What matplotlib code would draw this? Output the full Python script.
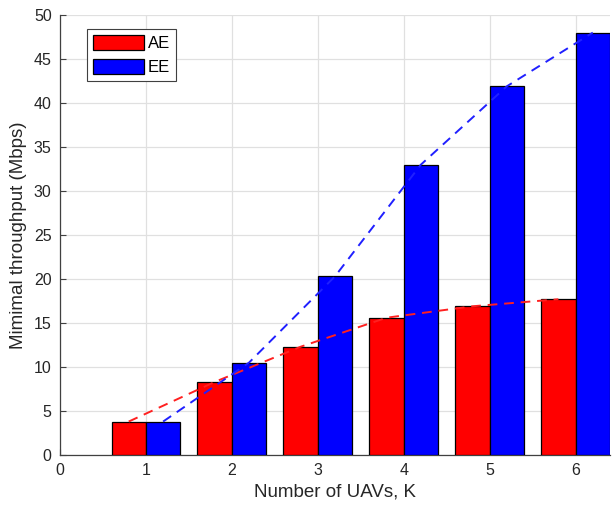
import numpy as np
import matplotlib
matplotlib.use("Agg")
import matplotlib.pyplot as plt

plt.rcParams['font.family'] = ['Liberation Sans', 'DejaVu Sans']

K = [1, 2, 3, 4, 5, 6]
AE = [3.8, 8.3, 12.3, 15.6, 16.9, 17.7]
EE = [3.8, 10.5, 20.3, 33.0, 41.9, 48.0]
xticks = [0, 1, 2, 3, 4, 5, 6]
yticks = list(range(0, 51, 5))

fig = plt.figure(figsize=(6.12, 5.11), dpi=100)
ax = fig.add_axes([0.098, 0.1096, 0.8987, 0.861])

k = np.array(K, float)
w = 0.4
ax.bar(k - w / 2, AE, width=w, color='#ff0000', edgecolor='black', linewidth=0.9, label='AE', zorder=3)
ax.bar(k + w / 2, EE, width=w, color='#0000ff', edgecolor='black', linewidth=0.9, label='EE', zorder=3)

ax.plot(k - w / 2, AE, '--', color='#ff2020', lw=1.4, dashes=(5, 3.5), zorder=4)
ax.plot(k + w / 2, EE, '--', color='#2020ff', lw=1.4, dashes=(5, 3.5), zorder=4)

ax.set_xlim(0, 6.4)
ax.set_ylim(0, 50)
ax.set_xticks(xticks)
ax.set_yticks(yticks)
ax.grid(True, color='#e0e0e0', linewidth=0.9, zorder=0)
ax.set_axisbelow(True)
for s in ['top', 'right']:
    ax.spines[s].set_visible(False)
for s in ['left', 'bottom']:
    ax.spines[s].set_color('#404040')
    ax.spines[s].set_linewidth(0.9)
ax.tick_params(direction='in', length=4, color='#404040', labelsize=11.5, labelcolor='#262626', pad=6)
ax.set_xlabel('Number of UAVs, K', fontsize=13.5, color='#262626', labelpad=4)
ax.set_ylabel('Mimimal throughput (Mbps)', fontsize=13.5, color='#262626', labelpad=5)

leg = ax.legend(loc='upper left', bbox_to_anchor=(0.049, 0.968), borderaxespad=0, fontsize=12,
                handlelength=3.1, handleheight=1.0, handletextpad=0.2, borderpad=0.35,
                labelspacing=0.45, fancybox=False, edgecolor='#404040', framealpha=1)
leg.get_frame().set_linewidth(0.8)

fig.savefig('out.png', dpi=100)
